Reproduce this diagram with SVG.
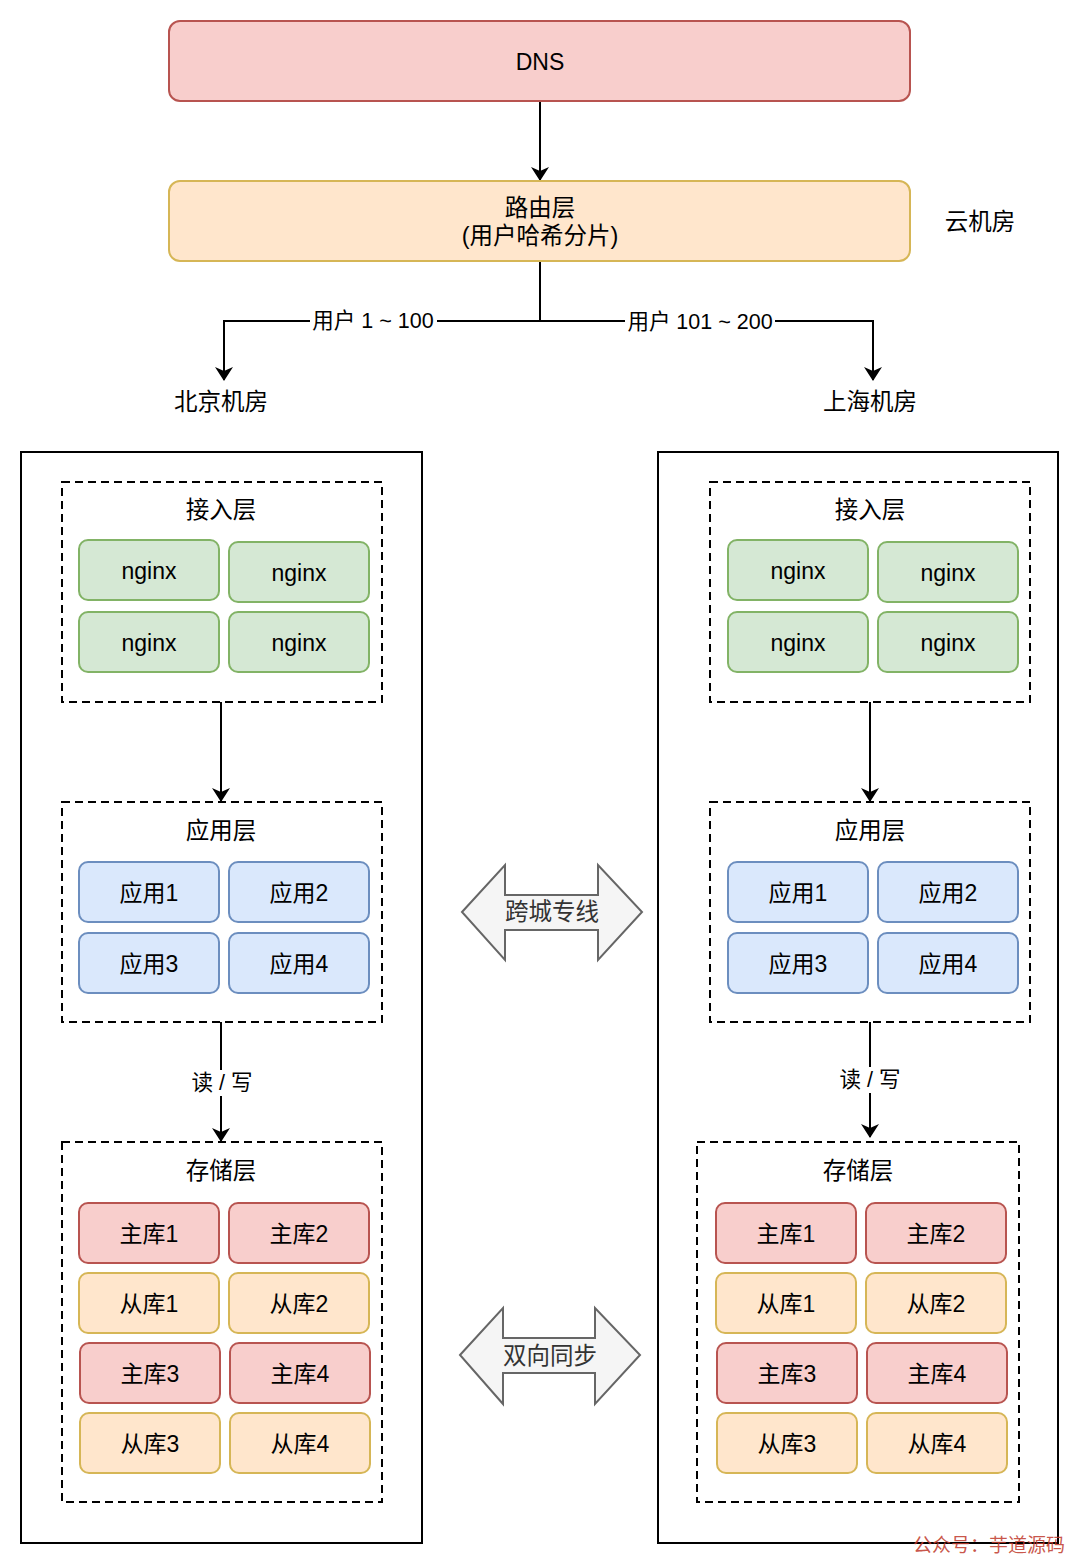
<svg xmlns="http://www.w3.org/2000/svg" width="1080" height="1565" viewBox="0 0 1080 1565">
<defs>
<marker id="ah" viewBox="0 0 14 18" refX="13" refY="9" markerWidth="14" markerHeight="18" markerUnits="userSpaceOnUse" orient="auto">
<path d="M0,0 L14,9 L0,18 L4,9 Z" fill="#000"/>
</marker>
<style>
text{font-family:"Liberation Sans","Noto Sans CJK SC",sans-serif;fill:#000;text-anchor:middle;dominant-baseline:central}
.t{font-size:23.5px}
.n{font-size:23px}
.lbl{font-size:21.5px}
.red{fill:#f8cecc;stroke:#b85450;stroke-width:2}
.org{fill:#ffe6cc;stroke:#d6b656;stroke-width:2}
.grn{fill:#d5e8d4;stroke:#82b366;stroke-width:2}
.blu{fill:#dae8fc;stroke:#6c8ebf;stroke-width:2}
.yel{fill:#ffe6cc;stroke:#d6b656;stroke-width:2}
.dash{fill:none;stroke:#000;stroke-width:2;stroke-dasharray:8 5}
.box{fill:none;stroke:#000;stroke-width:2}
.ln{fill:none;stroke:#000;stroke-width:2}
.dbl{fill:#f5f5f5;stroke:#666;stroke-width:2}
</style>
</defs>
<rect width="1080" height="1565" fill="#fff"/>

<g id="connectors">
<line class="ln" x1="540" y1="101" x2="540" y2="180" marker-end="url(#ah)"/>
<polyline class="ln" points="540,261 540,321 224,321 224,380" marker-end="url(#ah)"/>
<polyline class="ln" points="540,321 873,321 873,380" marker-end="url(#ah)"/>
<rect x="310" y="309" width="127" height="24" fill="#fff"/>
<text class="lbl" x="373" y="321">用户 1 ~ 100</text>
<rect x="625" y="310" width="150" height="24" fill="#fff"/>
<text class="lbl" x="700" y="322">用户 101 ~ 200</text>
<line class="ln" x1="221" y1="702" x2="221" y2="801" marker-end="url(#ah)"/>
<line class="ln" x1="870" y1="702" x2="870" y2="801" marker-end="url(#ah)"/>
<line class="ln" x1="221" y1="1022" x2="221" y2="1141" marker-end="url(#ah)"/>
<rect x="186" y="1070" width="70" height="26" fill="#fff"/>
<text class="lbl" x="222" y="1083">读 / 写</text>
<line class="ln" x1="870" y1="1022" x2="870" y2="1137" marker-end="url(#ah)"/>
<rect x="835" y="1067" width="70" height="26" fill="#fff"/>
<text class="lbl" x="870" y="1080">读 / 写</text>
</g>

<g id="dns"><rect class="red" x="169" y="21" width="741" height="80" rx="11"/><text class="n" x="540" y="62">DNS</text></g>
<g id="router"><rect class="org" x="169" y="181" width="741" height="80" rx="11"/><text class="t" x="540" y="208">路由层</text><text class="t" x="540" y="236">(用户哈希分片)</text></g>
<g id="cloud"><text class="t" x="980" y="222">云机房</text></g>
<g id="bj-label"><text class="t" x="221" y="402">北京机房</text></g>
<g id="sh-label"><text class="t" x="870" y="402">上海机房</text></g>

<g id="beijing">
<rect class="box" x="21" y="452" width="401" height="1091"/>
<g id="bj-access">
<rect class="dash" x="62" y="482" width="320" height="220"/>
<text class="t" x="221" y="510">接入层</text>
<rect class="grn" x="79" y="540" width="140" height="60" rx="9"/><text class="n" x="149" y="571">nginx</text>
<rect class="grn" x="229" y="542" width="140" height="60" rx="9"/><text class="n" x="299" y="573">nginx</text>
<rect class="grn" x="79" y="612" width="140" height="60" rx="9"/><text class="n" x="149" y="643">nginx</text>
<rect class="grn" x="229" y="612" width="140" height="60" rx="9"/><text class="n" x="299" y="643">nginx</text>
</g>
<g id="bj-app">
<rect class="dash" x="62" y="802" width="320" height="220"/>
<text class="t" x="221" y="831">应用层</text>
<rect class="blu" x="79" y="862" width="140" height="60" rx="9"/><text class="n" x="149" y="893">应用1</text>
<rect class="blu" x="229" y="862" width="140" height="60" rx="9"/><text class="n" x="299" y="893">应用2</text>
<rect class="blu" x="79" y="933" width="140" height="60" rx="9"/><text class="n" x="149" y="964">应用3</text>
<rect class="blu" x="229" y="933" width="140" height="60" rx="9"/><text class="n" x="299" y="964">应用4</text>
</g>
<g id="bj-storage">
<rect class="dash" x="62" y="1142" width="320" height="360"/>
<text class="t" x="221" y="1171">存储层</text>
<rect class="red" x="79" y="1203" width="140" height="60" rx="9"/><text class="n" x="149" y="1234">主库1</text>
<rect class="red" x="229" y="1203" width="140" height="60" rx="9"/><text class="n" x="299" y="1234">主库2</text>
<rect class="yel" x="79" y="1273" width="140" height="60" rx="9"/><text class="n" x="149" y="1304">从库1</text>
<rect class="yel" x="229" y="1273" width="140" height="60" rx="9"/><text class="n" x="299" y="1304">从库2</text>
<rect class="red" x="80" y="1343" width="140" height="60" rx="9"/><text class="n" x="150" y="1374">主库3</text>
<rect class="red" x="230" y="1343" width="140" height="60" rx="9"/><text class="n" x="300" y="1374">主库4</text>
<rect class="yel" x="80" y="1413" width="140" height="60" rx="9"/><text class="n" x="150" y="1444">从库3</text>
<rect class="yel" x="230" y="1413" width="140" height="60" rx="9"/><text class="n" x="300" y="1444">从库4</text>
</g>
</g>

<g id="shanghai">
<rect class="box" x="658" y="452" width="400" height="1091"/>
<g id="sh-access">
<rect class="dash" x="710" y="482" width="320" height="220"/>
<text class="t" x="870" y="510">接入层</text>
<rect class="grn" x="728" y="540" width="140" height="60" rx="9"/><text class="n" x="798" y="571">nginx</text>
<rect class="grn" x="878" y="542" width="140" height="60" rx="9"/><text class="n" x="948" y="573">nginx</text>
<rect class="grn" x="728" y="612" width="140" height="60" rx="9"/><text class="n" x="798" y="643">nginx</text>
<rect class="grn" x="878" y="612" width="140" height="60" rx="9"/><text class="n" x="948" y="643">nginx</text>
</g>
<g id="sh-app">
<rect class="dash" x="710" y="802" width="320" height="220"/>
<text class="t" x="870" y="831">应用层</text>
<rect class="blu" x="728" y="862" width="140" height="60" rx="9"/><text class="n" x="798" y="893">应用1</text>
<rect class="blu" x="878" y="862" width="140" height="60" rx="9"/><text class="n" x="948" y="893">应用2</text>
<rect class="blu" x="728" y="933" width="140" height="60" rx="9"/><text class="n" x="798" y="964">应用3</text>
<rect class="blu" x="878" y="933" width="140" height="60" rx="9"/><text class="n" x="948" y="964">应用4</text>
</g>
<g id="sh-storage">
<rect class="dash" x="697" y="1142" width="322" height="360"/>
<text class="t" x="858" y="1171">存储层</text>
<rect class="red" x="716" y="1203" width="140" height="60" rx="9"/><text class="n" x="786" y="1234">主库1</text>
<rect class="red" x="866" y="1203" width="140" height="60" rx="9"/><text class="n" x="936" y="1234">主库2</text>
<rect class="yel" x="716" y="1273" width="140" height="60" rx="9"/><text class="n" x="786" y="1304">从库1</text>
<rect class="yel" x="866" y="1273" width="140" height="60" rx="9"/><text class="n" x="936" y="1304">从库2</text>
<rect class="red" x="717" y="1343" width="140" height="60" rx="9"/><text class="n" x="787" y="1374">主库3</text>
<rect class="red" x="867" y="1343" width="140" height="60" rx="9"/><text class="n" x="937" y="1374">主库4</text>
<rect class="yel" x="717" y="1413" width="140" height="60" rx="9"/><text class="n" x="787" y="1444">从库3</text>
<rect class="yel" x="867" y="1413" width="140" height="60" rx="9"/><text class="n" x="937" y="1444">从库4</text>
</g>
</g>

<g id="cross-city">
<path class="dbl" d="M462,912 L505,865 L505,895 L598,895 L598,865 L642,912 L598,960 L598,930 L505,930 L505,960 Z"/>
<text class="t" x="552" y="912" style="fill:#333">跨城专线</text>
</g>
<g id="bidirectional-sync">
<path class="dbl" d="M460,1355 L503,1308 L503,1338 L595,1338 L595,1308 L640,1355 L595,1404 L595,1373 L503,1373 L503,1404 Z"/>
<text class="t" x="550" y="1356" style="fill:#333">双向同步</text>
</g>
<g id="watermark"><text x="989" y="1545" style="font-size:19px;fill:#c0392b;fill-opacity:0.85">公众号：芋道源码</text></g>
</svg>
